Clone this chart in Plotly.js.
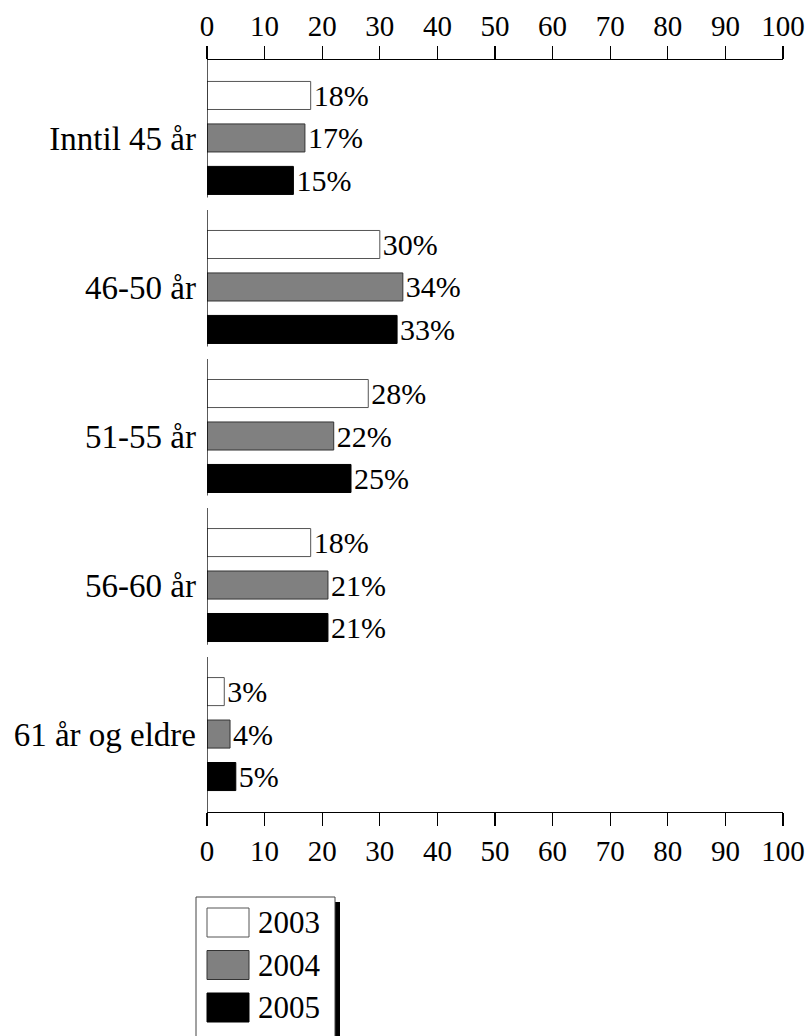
<!DOCTYPE html>
<html>
<head>
<meta charset="utf-8">
<script src="https://cdn.plot.ly/plotly-3.0.1.min.js"></script>
<style>
html,body{margin:0;padding:0;background:#fff;}
#chart{width:809px;height:1036px;}
</style>
</head>
<body>
<div id="chart"></div>
<script>
// ---- data ----
const categories = ['Inntil 45 år', '46-50 år', '51-55 år', '56-60 år', '61 år og eldre'];
const years = ['2003', '2004', '2005'];
const values2003 = [18, 30, 28, 18, 3];
const values2004 = [17, 34, 22, 21, 4];
const values2005 = [15, 33, 25, 21, 5];
const xTickValues = [0, 10, 20, 30, 40, 50, 60, 70, 80, 90, 100];

// ---- styling ----
const FONT = 'Liberation Serif';
const W = 809, H = 1036;
const M = {l: 207, r: 26, t: 60, b: 224};
const fills = ['#ffffff', '#808080', '#000000'];
const outlines = ['#555555', '#333333', '#000000'];
const seriesValues = [values2003, values2004, values2005];

const traces = years.map((yr, k) => ({
  type: 'bar',
  orientation: 'h',
  name: yr,
  y: categories,
  x: seriesValues[k],
  marker: {color: fills[k], line: {color: outlines[k], width: 1}},
  text: seriesValues[k].map(v => v + '%'),
  textposition: 'outside',
  constraintext: 'none',
  textfont: {family: FONT, size: 30, color: '#000'},
  cliponaxis: false,
  hoverinfo: 'skip'
}));
// empty trace to activate the top axis
traces.push({type: 'scatter', x: [], y: [], xaxis: 'x2', yaxis: 'y', showlegend: false, hoverinfo: 'skip'});

const plotW = W - M.l - M.r, plotH = H - M.t - M.b;
const px2x = p => (p - M.l) / plotW;
const py2y = p => (H - M.b - p) / plotH;

const yLo = -0.523, yHi = categories.length - 1 + 0.523;

const shapes = [];
// segmented vertical axis line, one piece per category
categories.forEach((c, i) => {
  const start = i === 0 ? yLo : i - 0.517;
  const end = i === categories.length - 1 ? yHi : i + 0.40;
  shapes.push({type: 'line', xref: 'x', yref: 'y', x0: 0, x1: 0, y0: start, y1: end,
    line: {color: '#000', width: 1.3}});
});

// manual legend
const lgL = 196, lgR = 335, lgT = 897, lgB = 1045;
shapes.push({type: 'rect', xref: 'paper', yref: 'paper',
  x0: px2x(lgR), x1: px2x(lgR + 5), y0: py2y(lgB), y1: py2y(lgT + 5),
  fillcolor: '#000', line: {width: 0}});
shapes.push({type: 'rect', xref: 'paper', yref: 'paper',
  x0: px2x(lgL), x1: px2x(lgR), y0: py2y(lgB), y1: py2y(lgT),
  fillcolor: '#fff', line: {color: '#444', width: 1}});
const annotations = [];
years.forEach((yr, k) => {
  const top = 908 + k * 42.5, bot = top + 29;
  shapes.push({type: 'rect', xref: 'paper', yref: 'paper',
    x0: px2x(207), x1: px2x(249), y0: py2y(bot), y1: py2y(top),
    fillcolor: fills[k], line: {color: outlines[k], width: 1}});
  annotations.push({xref: 'paper', yref: 'paper', x: px2x(256), y: py2y((top + bot) / 2),
    xanchor: 'left', yanchor: 'middle', text: yr, showarrow: false,
    font: {family: FONT, size: 31, color: '#000'}});
});

function xAxis(side, standoff) {
  return {
    side: side,
    range: [0, 100],
    tickvals: xTickValues,
    ticktext: xTickValues.map(String),
    ticks: 'outside',
    ticklen: 13,
    tickwidth: 1.3,
    tickcolor: '#000',
    showline: true,
    linecolor: '#000',
    linewidth: 1.3,
    showgrid: false,
    zeroline: false,
    tickfont: {family: FONT, size: 29, color: '#000'},
    ticklabelstandoff: standoff,
    fixedrange: true
  };
}

const layout = {
  width: W, height: H,
  margin: M,
  paper_bgcolor: '#fff',
  plot_bgcolor: '#fff',
  showlegend: false,
  barmode: 'group',
  bargap: 0.145,
  bargroupgap: 0.34,
  font: {family: FONT, color: '#000'},
  xaxis: xAxis('bottom', 0),
  xaxis2: Object.assign(xAxis('top', -2), {overlaying: 'x'}),
  yaxis: {
    range: [yHi, yLo],
    type: 'category',
    showline: false,
    ticks: '',
    showgrid: false,
    zeroline: false,
    tickfont: {family: FONT, size: 33, color: '#000'},
    ticklabelstandoff: 10,
    fixedrange: true
  },
  shapes: shapes,
  annotations: annotations
};

Plotly.newPlot('chart', traces, layout, {displayModeBar: false, staticPlot: true});
</script>
</body>
</html>
